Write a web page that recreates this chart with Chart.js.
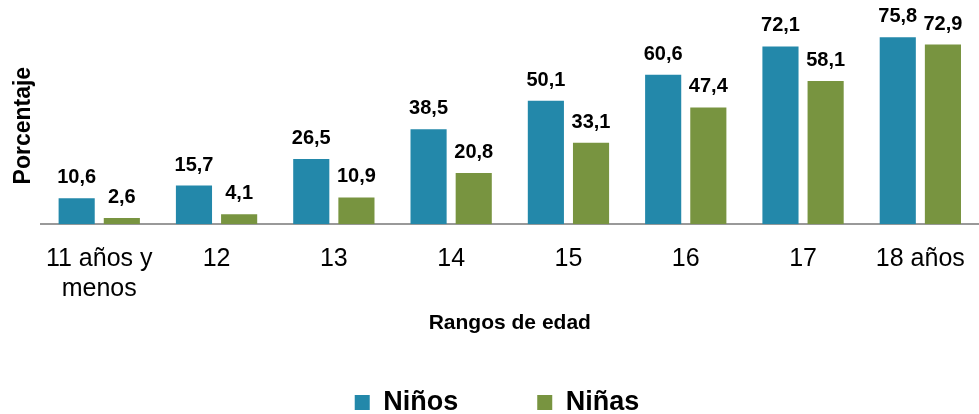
<!DOCTYPE html>
<html>
<head>
<meta charset="utf-8">
<script src="https://cdn.jsdelivr.net/npm/chart.js@4/dist/chart.umd.min.js"></script>
<style>
  html, body { margin: 0; padding: 0; background: #fff; overflow: hidden; }
  #wrap { width: 979px; height: 414px; }
</style>
</head>
<body>
<div id="wrap"><canvas id="myChart" width="979" height="414"></canvas></div>
<script>
var categories = [['11 años y', 'menos'], '12', '13', '14', '15', '16', '17', '18 años'];
var ninos = [10.6, 15.7, 26.5, 38.5, 50.1, 60.6, 72.1, 75.8];
var ninas = [2.6, 4.1, 10.9, 20.8, 33.1, 47.4, 58.1, 72.9];

Chart.defaults.font.family = '"Liberation Sans", Arial, sans-serif';
Chart.defaults.color = '#000';

// valores encima de cada barra
var barLabels = {
  id: 'barLabels',
  afterDatasetsDraw: function(chart) {
    var ctx = chart.ctx;
    ctx.save();
    ctx.font = 'bold 20px "Liberation Sans", Arial, sans-serif';
    ctx.fillStyle = '#000';
    ctx.textAlign = 'center';
    ctx.textBaseline = 'alphabetic';
    chart.data.datasets.forEach(function(ds, i) {
      chart.getDatasetMeta(i).data.forEach(function(bar, j) {
        ctx.fillText(ds.data[j].toFixed(1).replace('.', ','), bar.x, bar.y - 15);
      });
    });
    ctx.restore();
  }
};

var ctx = document.getElementById('myChart');
var myChart = new Chart(ctx, {
  type: 'bar',
  data: {
    labels: categories,
    datasets: [{
      label: 'Niños',
      data: ninos,
      backgroundColor: '#2388AA'
    }, {
      label: 'Niñas',
      data: ninas,
      backgroundColor: '#789440'
    }]
  },
  options: {
    responsive: false,
    animation: false,
    categoryPercentage: 0.77,
    barPercentage: 0.8,
    layout: { padding: { left: 15, right: 0, top: 27, bottom: -12 } },
    plugins: {
      tooltip: { enabled: false },
      legend: {
        position: 'bottom',
        labels: {
          boxWidth: 15,
          boxHeight: 15,
          padding: 11.5,
          font: { size: 27, weight: 'bold' },
          generateLabels: function(chart) {
            var items = Chart.defaults.plugins.legend.labels.generateLabels(chart);
            // hueco ancho entre las dos entradas
            items[0].text = items[0].text + '\u00a0'.repeat(9);
            items.forEach(function(it) { it.lineWidth = 0; });
            return items;
          }
        }
      }
    },
    scales: {
      x: {
        grid: { display: false, drawTicks: false },
        border: { display: true, color: '#999', width: 2 },
        ticks: { font: { size: 25, lineHeight: 1.2 }, padding: 20, maxRotation: 0 },
        title: {
          display: true,
          text: 'Rangos de edad',
          font: { size: 21, weight: 'bold', lineHeight: 1.2 },
          padding: { top: -14, bottom: 42 }
        },
        afterFit: function(scale) {
          // el eje llega hasta el borde derecho
          scale.paddingLeft = 0;
          scale.paddingRight = 0;
        }
      },
      y: {
        min: 0,
        max: 80,
        grid: { display: false, drawTicks: false },
        border: { display: false },
        ticks: { display: false },
        title: {
          display: true,
          text: 'Porcentaje',
          font: { size: 23, weight: 'bold', lineHeight: 1.2 },
          padding: { top: -5, bottom: 3 }
        }
      }
    }
  },
  plugins: [barLabels]
});
</script>
</body>
</html>
